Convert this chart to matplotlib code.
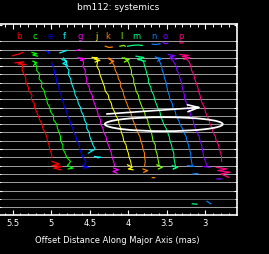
import numpy as np
import matplotlib
matplotlib.use("Agg")
from matplotlib import pyplot as plt
import matplotlib.patches as mpatches

# row positions of the main traces (shared by all letters)
rows = [2.0, 2.5, 3.0, 3.5, 4.0, 4.5, 5.0, 5.5, 6.0, 6.5, 7.0, 7.5, 8.0, 8.5,
        9.0, 9.5, 10.0, 10.5, 11.0, 11.5, 12.0, 12.5, 13.0, 13.5, 14.0, 14.5, 15.0]

nan = np.nan
x_b = [nan, 5.40, 5.37, 5.38, 5.35, 5.33, 5.33, 5.30, 5.29, 5.25, 5.26, 5.22, 5.22, 5.19,
       5.17, 5.15, 5.12, 5.11, 5.08, 5.06, 5.05, 5.03, 5.02, 5.00, 4.99, nan, nan]
x_c = [nan, 5.22, 5.19, 5.19, 5.15, 5.16, 5.12, 5.13, 5.09, 5.08, 5.06, 5.05, 5.02, 5.01,
       4.97, 4.97, 4.93, 4.92, 4.90, 4.88, 4.88, 4.85, 4.85, 4.82, 4.80, 4.75, 4.79]
x_e = [nan, 5.00, 4.98, 4.96, 4.96, 4.93, 4.93, 4.90, 4.90, 4.87, 4.86, 4.84, 4.83, 4.80,
       4.79, 4.76, 4.75, 4.72, 4.71, 4.68, 4.67, 4.64, 4.63, 4.61, 4.59, 4.55, 4.59]
x_f = [4.84, 4.80, 4.81, 4.77, 4.78, 4.75, 4.74, 4.72, 4.70, 4.69, 4.66, 4.65, 4.62, 4.61,
       4.58, 4.57, 4.54, 4.54, 4.51, 4.50, 4.48, 4.46, 4.43, 4.52, nan, nan, nan]
x_g = [4.63, 4.58, 4.59, 4.56, 4.56, 4.54, 4.54, 4.51, 4.50, 4.47, 4.46, 4.44, 4.42, 4.40,
       4.39, 4.36, 4.36, 4.33, 4.32, 4.29, 4.28, 4.26, 4.24, 4.22, 4.21, 4.19, 4.18]
x_j = [4.42, 4.40, 4.41, 4.38, 4.37, 4.35, 4.33, 4.31, 4.30, 4.26, 4.25, 4.22, 4.21, 4.18,
       4.16, 4.13, 4.12, 4.10, 4.09, 4.07, 4.06, 4.03, 4.02, 4.00, 3.99, 3.97, 3.96]
x_k = [4.25, 4.21, 4.18, 4.17, 4.14, 4.13, 4.10, 4.10, 4.07, 4.06, 4.04, 4.02, 4.00, 3.97,
       3.96, 3.94, 3.92, 3.90, 3.88, 3.85, 3.84, 3.82, 3.81, 3.79, 3.79, 3.78, 3.79]
x_l = [4.05, 4.00, 3.98, 3.96, 3.96, 3.93, 3.93, 3.91, 3.90, 3.87, 3.86, 3.84, 3.82, 3.79,
       3.78, 3.75, 3.74, 3.72, 3.70, 3.69, 3.68, 3.65, 3.65, 3.63, 3.62, 3.61, 3.60]
x_m = [3.86, 3.80, 3.79, 3.77, 3.76, 3.74, 3.74, 3.71, 3.70, 3.67, 3.66, 3.64, 3.62, 3.59,
       3.58, 3.56, 3.54, 3.51, 3.49, 3.47, 3.46, 3.44, 3.43, 3.41, 3.41, 3.40, 3.39]
x_n = [3.62, 3.59, 3.57, 3.56, 3.54, 3.53, 3.51, 3.50, 3.49, 3.47, 3.46, 3.43, 3.42, 3.39,
       3.38, 3.35, 3.33, 3.30, 3.28, 3.25, 3.24, 3.22, 3.21, 3.19, 3.19, 3.18, 3.17]
x_o = [3.46, 3.41, 3.38, 3.37, 3.34, 3.33, 3.31, 3.30, 3.29, 3.27, 3.27, 3.24, 3.23, 3.20,
       3.19, 3.16, 3.15, 3.13, 3.11, 3.08, 3.07, 3.05, 3.04, 3.03, 3.02, 3.00, 2.98]
x_p = [3.26, 3.21, 3.19, 3.18, 3.15, 3.14, 3.12, 3.10, 3.09, 3.07, 3.06, 3.04, 3.01, 3.00,
       2.98, 2.95, 2.94, 2.91, 2.90, 2.87, 2.86, 2.83, 2.82, 2.80, 2.79, 2.79, nan]

# short strokes at the start / end of each trace: (x, row), None = break
top_b = [(5.50, 1.75), (5.46, 1.62), (5.42, 1.55), (5.37, 1.35), None,
         (5.47, 2.6), (5.36, 2.5), (5.43, 2.75), (5.33, 2.8)]
top_c = [(5.25, 1.35), (5.19, 1.5), (5.24, 1.65), (5.18, 1.8), None,
         (5.24, 2.4), (5.19, 2.6), (5.23, 2.9)]
top_e = [(5.06, 1.2), (5.02, 1.3), (5.04, 1.45)]
top_f = [(4.89, 1.4), (4.84, 1.25), (4.80, 1.1), None,
         (4.86, 2.2), (4.80, 2.4), (4.85, 2.7), (4.79, 2.9)]
top_g = [(4.67, 1.1), (4.63, 1.0), None, (4.66, 2.0), (4.57, 2.1), (4.62, 2.3)]
top_j = [(4.47, 1.95), (4.40, 2.0), (4.44, 2.15), (4.37, 2.3), (4.43, 2.5)]
top_k = [(4.30, 0.6), (4.25, 0.75), (4.21, 0.7), None, (4.26, 2.1), (4.19, 2.4), (4.24, 2.7)]
top_l = [(4.11, 0.6), (4.06, 0.5), (4.04, 0.6), None, (4.08, 2.0), (3.99, 2.2), (4.05, 2.5)]
top_m = [(4.01, 0.6), (3.95, 0.5), (3.88, 0.45), (3.82, 0.5), None,
         (3.90, 1.8), (3.80, 1.95), (3.88, 2.2), (3.78, 2.4)]
top_n = [(3.69, 0.35), (3.64, 0.4), (3.59, 0.3), None, (3.65, 1.9), (3.57, 2.1), (3.62, 2.4)]
top_o = [(3.55, 0.15), (3.52, 0.3), (3.49, 0.25), None,
         (3.48, 1.6), (3.40, 1.75), (3.46, 1.9), (3.38, 2.2)]
top_p = [(3.33, 0.2), (3.29, 0.2), None,
         (3.33, 1.6), (3.22, 1.7), (3.30, 1.85), (3.20, 2.0), (3.28, 2.2)]

bot_b = [(4.99, 14.5), (4.90, 14.8), (4.99, 15.0), (4.86, 15.1), (4.97, 15.3), (4.88, 15.5)]
bot_c = [(4.79, 15.0), (4.72, 15.3), (4.78, 15.4)]
bot_e = [(4.59, 15.0), (4.52, 15.2), (4.58, 15.3)]
bot_f = [(4.50, 13.1), (4.46, 13.15), None, (4.44, 13.9), (4.36, 14.0), (4.40, 14.05)]
bot_g = [(4.19, 15.3), (4.13, 15.5), (4.20, 15.7), (4.15, 15.9)]
bot_j = [(4.01, 14.9), (3.95, 15.2), (4.00, 15.4), (3.94, 15.5)]
bot_k = [(3.81, 15.4), (3.75, 15.6), (3.80, 15.8), None, (3.69, 16.45), (3.66, 16.45)]
bot_l = [(3.63, 14.9), (3.56, 15.2), (3.61, 15.4)]
bot_m = [(3.43, 15.0), (3.36, 15.2), (3.42, 15.4), (3.39, 15.3), None,
         (3.17, 19.6), (3.11, 19.65)]
bot_n = [(3.23, 15.0), (3.14, 15.1), None, (3.16, 16.0), (3.10, 15.95), None,
         (2.98, 19.3), (2.93, 19.6)]
bot_o = [(3.03, 15.1), (2.94, 15.2), None, (2.85, 16.6), (2.79, 16.6)]
bot_p = [(2.86, 15.2), (2.72, 15.4), (2.84, 15.6), (2.68, 15.8), (2.80, 16.0), (2.70, 16.4)]

letters = ["b", "c", "e", "f", "g", "j", "k", "l", "m", "n", "o", "p"]
letter_x = [5.42, 5.22, 5.02, 4.83, 4.62, 4.42, 4.27, 4.09, 3.90, 3.67, 3.52, 3.32]
colors = ["#ff0000", "#00ff00", "#0000ff", "#00ffff", "#ff00ff", "#ffff00",
          "#ff8000", "#80ff00", "#00ff80", "#0080ff", "#8000ff", "#ff0080"]
traces = [x_b, x_c, x_e, x_f, x_g, x_j, x_k, x_l, x_m, x_n, x_o, x_p]
tops = [top_b, top_c, top_e, top_f, top_g, top_j, top_k, top_l, top_m, top_n, top_o, top_p]
bots = [bot_b, bot_c, bot_e, bot_f, bot_g, bot_j, bot_k, bot_l, bot_m, bot_n, bot_o, bot_p]

grid_rows = list(range(0, 21))
dark_rows = [6, 19]

xticks = [5.5, 5, 4.5, 4, 3.5, 3]
xtick_labels = ["5.5", "5", "4.5", "4", "3.5", "3"]

ellipse_center = (3.54, 10.0)
ellipse_size = (1.53, 1.69)
arrow_from = (4.28, 8.77)
arrow_to = (3.05, 7.96)


def stroke(points):
    xs = [nan if p is None else p[0] for p in points]
    ys = [nan if p is None else p[1] for p in points]
    return xs, ys


fig = plt.figure(figsize=(2.69, 2.55), dpi=100, facecolor="black")
ax = fig.add_axes([-0.004, 0.153, 0.885, 0.748])
ax.set_facecolor("black")

for r in grid_rows:
    c = "#606060" if r in dark_rows else "#a0a0a0"
    ax.axhline(r, color=c, linewidth=0.7, zorder=1)

for xs, top, bot, col in zip(traces, tops, bots, colors):
    ax.plot(xs, rows, color=col, linewidth=0.75, zorder=3)
    tx, ty = stroke(top)
    ax.plot(tx, ty, color=col, linewidth=0.9, zorder=3)
    bx, by = stroke(bot)
    ax.plot(bx, by, color=col, linewidth=0.9, zorder=3)

for lab, lx, col in zip(letters, letter_x, colors):
    ax.text(lx, -0.75, lab, color=col, fontsize=6, ha="center", va="center")

ax.add_patch(mpatches.Ellipse(ellipse_center, ellipse_size[0], ellipse_size[1],
                              fill=False, edgecolor="white", linewidth=1.3, zorder=4))
ax.annotate("", xy=arrow_to, xytext=arrow_from,
            arrowprops=dict(arrowstyle="->, head_length=0.8, head_width=0.25",
                            color="white", linewidth=1.2, shrinkA=0, shrinkB=0),
            zorder=4)

ax.set_xlim(5.68, 2.59)
ax.set_ylim(20.95, -2.05)

for side in ["top", "bottom", "left", "right"]:
    ax.spines[side].set_color("white")
    ax.spines[side].set_linewidth(1.2)

ax.set_xticks(xticks)
ax.set_xticklabels(xtick_labels)
ax.set_xticks(np.arange(2.6, 5.7, 0.1), minor=True)
ax.set_yticks([-2, 3, 8, 13, 18])
ax.set_yticks(grid_rows, minor=True)
ax.set_yticklabels([])
ax.tick_params(axis="x", which="both", direction="in", top=True, bottom=True,
               colors="white", labelsize=6, pad=2.5)
ax.tick_params(axis="x", which="major", length=3.5, width=0.8)
ax.tick_params(axis="x", which="minor", length=1.8, width=0.7)
ax.tick_params(axis="y", which="both", direction="in", left=True, right=True,
               colors="white")
ax.tick_params(axis="y", which="major", length=2.5, width=0.8)
ax.tick_params(axis="y", which="minor", length=1.2, width=0.7)

fig.text(0.44, 0.972, "bm112: systemics", color="white", fontsize=6.5,
         ha="center", va="center")
fig.text(0.437, 0.056, "Offset Distance Along Major Axis (mas)", color="white",
         fontsize=6, ha="center", va="center")

fig.savefig("out.png", dpi=100, facecolor="black")
